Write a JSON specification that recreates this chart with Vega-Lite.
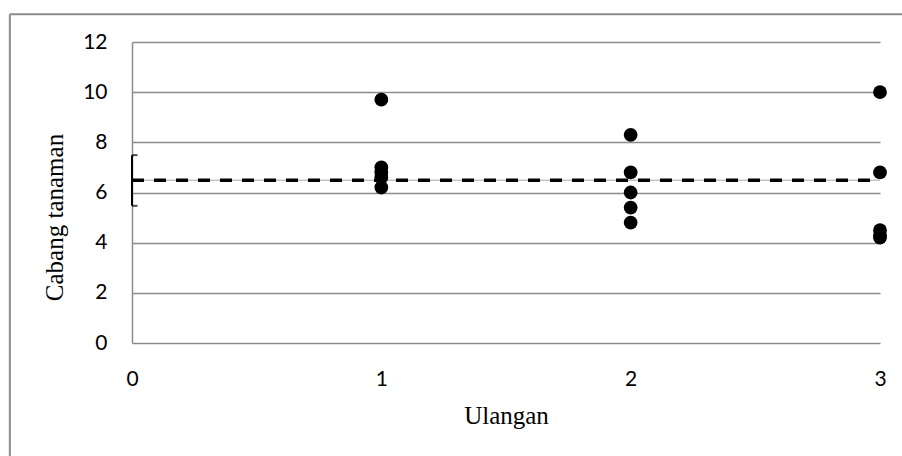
{
  "$schema": "https://vega.github.io/schema/vega-lite/v6.json",
  "autosize": "none",
  "width": 748,
  "height": 301,
  "padding": {"left": 132, "top": 42, "right": 22, "bottom": 113},
  "background": "white",
  "config": {"view": {"stroke": null}},
  "datasets": {
    "points": [
      {"Ulangan": 1, "Cabang": 9.7},
      {"Ulangan": 1, "Cabang": 7.0},
      {"Ulangan": 1, "Cabang": 6.8},
      {"Ulangan": 1, "Cabang": 6.6},
      {"Ulangan": 1, "Cabang": 6.2},
      {"Ulangan": 2, "Cabang": 8.3},
      {"Ulangan": 2, "Cabang": 6.8},
      {"Ulangan": 2, "Cabang": 6.0},
      {"Ulangan": 2, "Cabang": 5.4},
      {"Ulangan": 2, "Cabang": 4.8},
      {"Ulangan": 3, "Cabang": 10.0},
      {"Ulangan": 3, "Cabang": 6.8},
      {"Ulangan": 3, "Cabang": 4.5},
      {"Ulangan": 3, "Cabang": 4.3},
      {"Ulangan": 3, "Cabang": 4.2}
    ],
    "mean": [
      {"Ulangan": 0, "Rata": 6.49},
      {"Ulangan": 3, "Rata": 6.49}
    ],
    "err": [
      {"Ulangan": 0, "lo": 5.47, "hi": 7.49}
    ]
  },
  "layer": [
    {
      "data": {"name": "mean"},
      "mark": {"type": "line", "color": "#a6a6a6", "strokeWidth": 1},
      "encoding": {
        "x": {
          "field": "Ulangan", "type": "quantitative",
          "scale": {"domain": [0, 3], "nice": false},
          "axis": {
            "values": [0, 1, 2, 3], "format": "d", "grid": false, "ticks": false,
            "domain": false,
            "labelFont": "Lato", "labelFontSize": 21, "labelColor": "#000000",
            "labelPadding": 25, "labelFlush": false,
            "title": "Ulangan", "titleFont": "Liberation Serif", "titleFontSize": 25,
            "titleFontWeight": "normal", "titleColor": "#000000", "titlePadding": 14
          }
        },
        "y": {
          "field": "Rata", "type": "quantitative",
          "scale": {"domain": [0, 12], "nice": false},
          "axis": {
            "values": [0, 2, 4, 6, 8, 10, 12], "grid": true, "gridColor": "#8c8c8c",
            "gridWidth": 1.5, "gridOpacity": 1, "ticks": false,
            "domain": true, "domainColor": "#8c8c8c", "domainWidth": 1.5,
            "labelFont": "Lato", "labelFontSize": 21, "labelColor": "#000000",
            "labelPadding": 25,
            "title": "Cabang tanaman", "titleFont": "Liberation Serif", "titleFontSize": 25,
            "titleFontWeight": "normal", "titleColor": "#000000", "titlePadding": 15,
            "titleY": 175
          }
        }
      }
    },
    {
      "data": {"name": "mean"},
      "mark": {"type": "line", "color": "#000000", "strokeWidth": 3.5, "strokeDash": [12, 10]},
      "encoding": {
        "x": {"field": "Ulangan", "type": "quantitative"},
        "y": {"field": "Rata", "type": "quantitative"}
      }
    },
    {
      "data": {"name": "err"},
      "mark": {"type": "rule", "color": "#000000", "strokeWidth": 2},
      "encoding": {
        "x": {"field": "Ulangan", "type": "quantitative"},
        "y": {"field": "lo", "type": "quantitative"},
        "y2": {"field": "hi"}
      }
    },
    {
      "data": {"name": "err"},
      "mark": {"type": "tick", "color": "#000000", "orient": "horizontal", "size": 11, "thickness": 2, "clip": true},
      "encoding": {
        "x": {"field": "Ulangan", "type": "quantitative"},
        "y": {"field": "lo", "type": "quantitative"}
      }
    },
    {
      "data": {"name": "err"},
      "mark": {"type": "tick", "color": "#000000", "orient": "horizontal", "size": 11, "thickness": 2, "clip": true},
      "encoding": {
        "x": {"field": "Ulangan", "type": "quantitative"},
        "y": {"field": "hi", "type": "quantitative"}
      }
    },
    {
      "data": {"name": "points"},
      "mark": {"type": "circle", "color": "#000000", "opacity": 1, "size": 190},
      "encoding": {
        "x": {"field": "Ulangan", "type": "quantitative"},
        "y": {"field": "Cabang", "type": "quantitative"}
      }
    },
    {
      "data": {"values": [{}]},
      "mark": {"type": "rule", "color": "#8c8c8c", "strokeWidth": 2, "clip": false},
      "encoding": {
        "x": {"datum": -0.49},
        "y": {"datum": -5},
        "y2": {"datum": 13.11}
      }
    },
    {
      "data": {"values": [{}]},
      "mark": {"type": "rule", "color": "#8c8c8c", "strokeWidth": 2, "clip": false},
      "encoding": {
        "x": {"datum": -0.49},
        "x2": {"datum": 3.2},
        "y": {"datum": 13.11}
      }
    }
  ]
}
